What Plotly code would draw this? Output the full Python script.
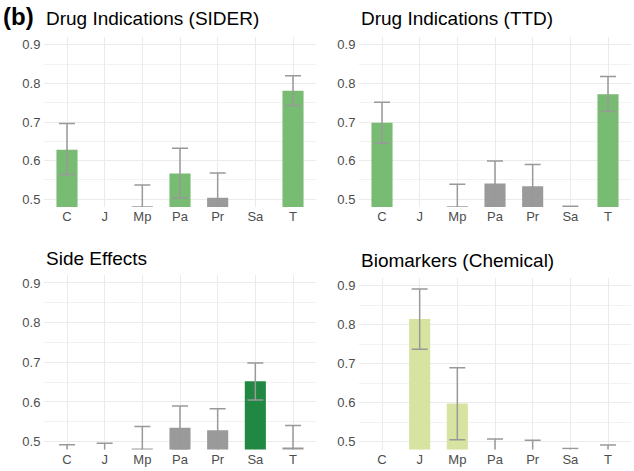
import plotly.graph_objects as go
from plotly.subplots import make_subplots

cats = ["C", "J", "Mp", "Pa", "Pr", "Sa", "T"]

titles = ["Drug Indications (SIDER)", "Drug Indications (TTD)",
          "Side Effects", "Biomarkers (Chemical)"]

# mean AUC and interval bounds per panel (None = not shown)
sider_mean = [0.628, None, 0.482, 0.567, 0.504, None, 0.781]
sider_hi = [0.696, None, 0.537, 0.632, 0.568, None, 0.820]
sider_lo = [0.564, None, 0.430, 0.504, 0.440, None, 0.743]
sider_col = ["mid", "grey", "grey", "mid", "grey", "grey", "mid"]

ttd_mean = [0.698, None, 0.482, 0.541, 0.534, 0.450, 0.772]
ttd_hi = [0.751, None, 0.539, 0.599, 0.590, 0.482, 0.818]
ttd_lo = [0.645, None, 0.430, 0.470, 0.470, 0.430, 0.727]
ttd_col = ["mid", "grey", "grey", "grey", "grey", "grey", "mid"]

se_mean = [0.450, 0.450, 0.483, 0.535, 0.529, 0.652, 0.485]
se_hi = [0.492, 0.496, 0.538, 0.590, 0.583, 0.698, 0.541]
se_lo = [0.400, 0.400, 0.430, 0.480, 0.475, 0.605, 0.430]
se_col = ["grey", "grey", "grey", "grey", "grey", "dark", "grey"]

bio_mean = [None, 0.815, 0.598, 0.450, 0.450, 0.440, 0.450]
bio_hi = [None, 0.892, 0.690, 0.507, 0.504, 0.483, 0.492]
bio_lo = [None, 0.737, 0.505, 0.400, 0.400, 0.400, 0.400]
bio_col = ["light", "light", "light", "grey", "grey", "grey", "grey"]

palette = {"mid": "#78bb72", "dark": "#208843", "light": "#d7e3a1", "grey": "#9a9a9a"}

panels = [(sider_mean, sider_hi, sider_lo, sider_col),
          (ttd_mean, ttd_hi, ttd_lo, ttd_col),
          (se_mean, se_hi, se_lo, se_col),
          (bio_mean, bio_hi, bio_lo, bio_col)]

W, H = 634, 471
# pixel boxes of each plot area: (left, right, top, bottom)
boxes = [(44.4, 315.6, 37, 207), (359.4, 630.6, 37, 207),
         (44.4, 315.6, 275, 449.6), (359.4, 630.6, 278, 449.6)]
title_y = [19, 19, 258, 260]

fig = make_subplots(rows=2, cols=2)

for k, (m, hi, lo, col) in enumerate(panels):
    r, c = k // 2 + 1, k % 2 + 1
    up = [None if v is None else h - v for v, h in zip(m, hi)]
    dn = [None if v is None else v - l for v, l in zip(m, lo)]
    fig.add_trace(go.Bar(
        x=cats, y=m, width=0.56,
        marker=dict(color=[palette[p] for p in col], line_width=0),
        error_y=dict(type="data", array=up, arrayminus=dn, symmetric=False,
                     color="#999999", thickness=1.5, width=8),
        showlegend=False, hoverinfo="x+y"), r, c)

for k, (l, rr, t, b) in enumerate(boxes):
    n = "" if k == 0 else str(k + 1)
    fig.layout["xaxis" + n].update(
        domain=[l / W, rr / W], showgrid=True, gridcolor="#ebebeb", gridwidth=1,
        zeroline=False, showline=False, ticks="",
        tickfont=dict(size=13, color="#4d4d4d"), range=[-0.6, 6.6])
    fig.layout["yaxis" + n].update(
        domain=[1 - b / H, 1 - t / H], range=[0.48, 0.92],
        tickvals=[0.5, 0.6, 0.7, 0.8, 0.9], ticktext=["0.5", "0.6", "0.7", "0.8", "0.9"],
        showgrid=True, gridcolor="#ebebeb", gridwidth=1, zeroline=False, ticks="",
        minor=dict(tickvals=[0.55, 0.65, 0.75, 0.85], showgrid=True,
                   gridcolor="#f2f2f2", gridwidth=0.6),
        tickfont=dict(size=13, color="#4d4d4d"), ticklabelstandoff=3)
    fig.add_annotation(text=titles[k], xref="paper", yref="paper",
                       x=l / W, y=1 - title_y[k] / H, xanchor="left", yanchor="middle",
                       showarrow=False, font=dict(size=19, color="black"))

fig.add_annotation(text="<b>(b)</b>", xref="paper", yref="paper", x=1 / W, y=1 - 17 / H,
                   xanchor="left", yanchor="middle", showarrow=False,
                   font=dict(size=24, color="black"))

fig.update_layout(width=W, height=H, margin=dict(l=0, r=0, t=0, b=0),
                  plot_bgcolor="white", paper_bgcolor="white",
                  font=dict(family="Liberation Sans, Arial, sans-serif"))
# the page body has a default 8px margin; drop it so the figure fills the window
fig.write_html("out.html", config={"displayModeBar": False},
               post_script="document.body.style.margin='0';")
